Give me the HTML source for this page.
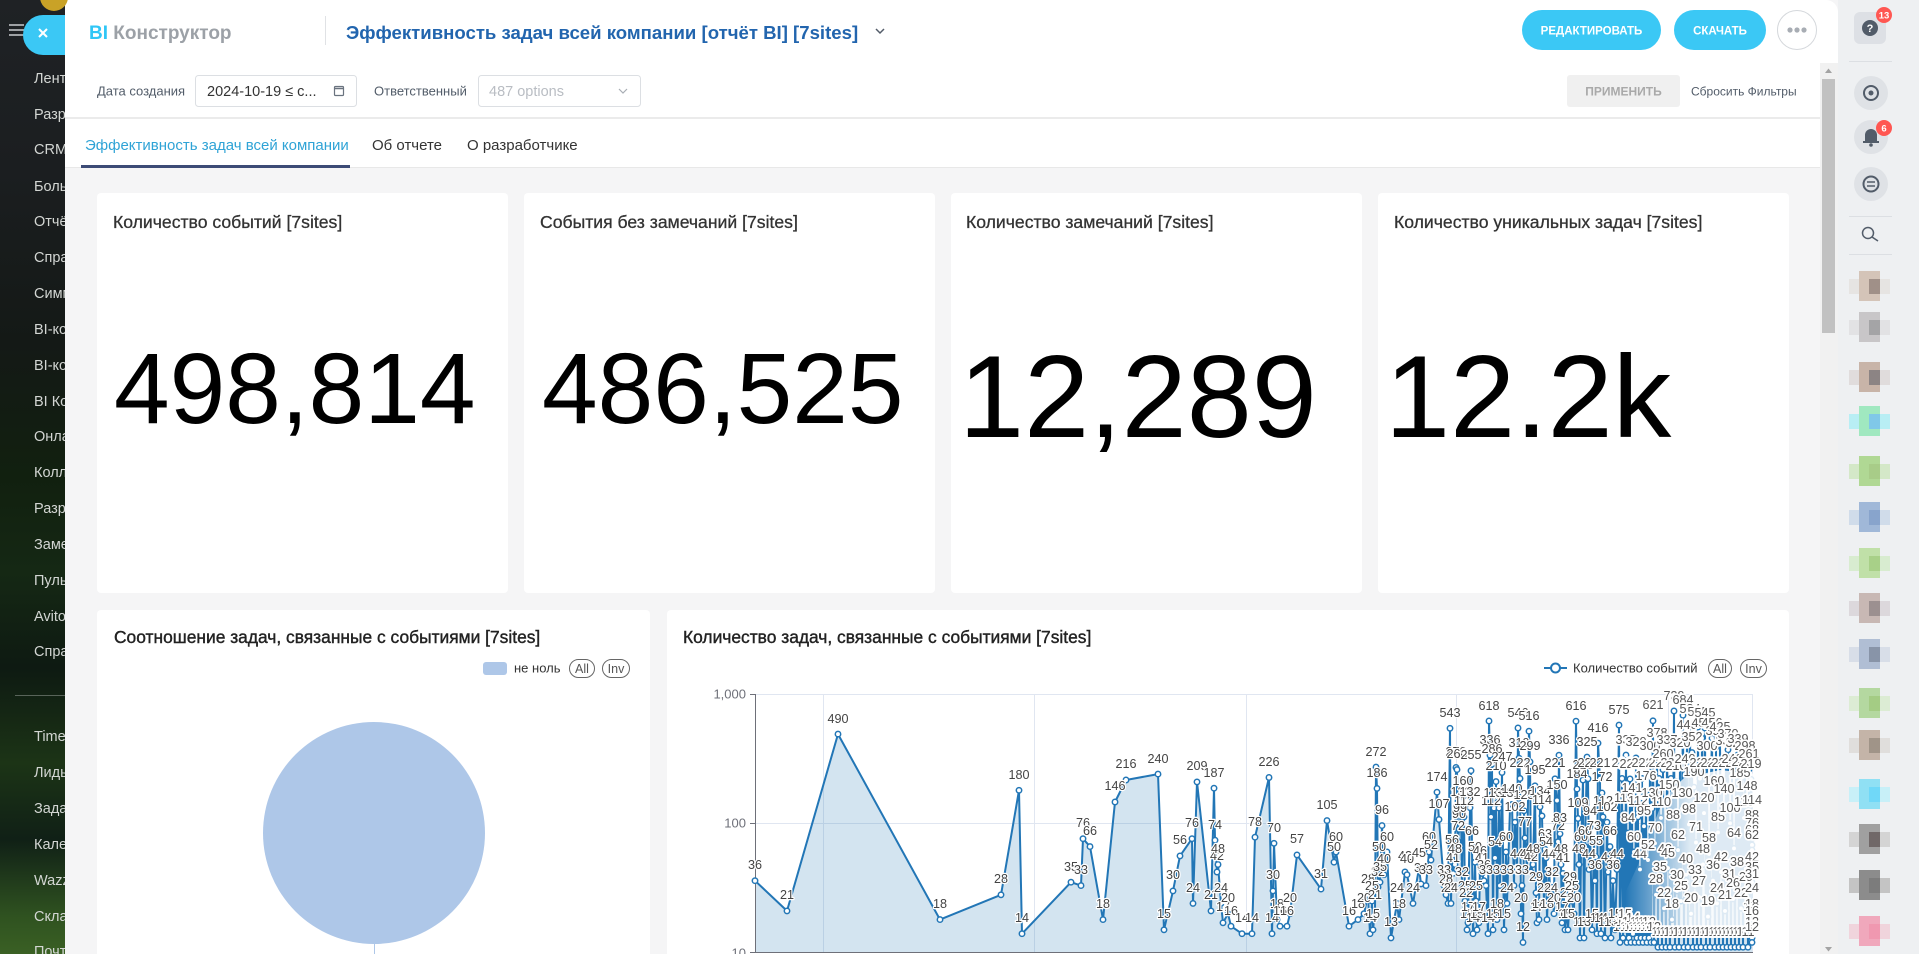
<!DOCTYPE html>
<html><head><meta charset="utf-8">
<style>
*{box-sizing:border-box;margin:0;padding:0}
html,body{width:1919px;height:954px;overflow:hidden;background:#f5f5f6;font-family:"Liberation Sans","Noto Sans CJK SC",sans-serif;position:relative}
.a{position:absolute}
#ls{left:0;top:0;width:65px;height:954px;overflow:hidden;background:linear-gradient(180deg,#1f2225 0%,#1b1e20 18%,#141916 36%,#11200f 50%,#152814 60%,#0e1a12 70%,#1c3416 80%,#102016 88%,#2f5220 96%,#3a6024 100%)}
#ls .t{position:absolute;left:34px;font-size:14.5px;line-height:18px;color:#d3d6d3;white-space:nowrap}
.card{position:absolute;background:#fff;border-radius:4px}
</style></head><body>
<div id="ls" class="a">
<div class="t" style="top:70px">Лента</div>
<div class="t" style="top:106px">Разработка</div>
<div class="t" style="top:141px">CRM</div>
<div class="t" style="top:178px">Больше</div>
<div class="t" style="top:213px">Отчёты</div>
<div class="t" style="top:249px">Справка</div>
<div class="t" style="top:285px">Симметрия</div>
<div class="t" style="top:321px">BI-конструктор</div>
<div class="t" style="top:357px">BI-конструктор</div>
<div class="t" style="top:393px">BI Конструктор</div>
<div class="t" style="top:428px">Онлайн</div>
<div class="t" style="top:464px">Коллеги</div>
<div class="t" style="top:500px">Разработка</div>
<div class="t" style="top:536px">Заметки</div>
<div class="t" style="top:572px">Пульс</div>
<div class="t" style="top:608px">Avito</div>
<div class="t" style="top:643px">Справочник</div>
<div class="a" style="left:15px;top:695px;width:50px;height:1px;background:rgba(255,255,255,0.3)"></div>
<div class="t" style="top:728px">Timeman</div>
<div class="t" style="top:764px">Лиды</div>
<div class="t" style="top:800px">Задачи</div>
<div class="t" style="top:836px">Календарь</div>
<div class="t" style="top:872px">Wazzup</div>
<div class="t" style="top:908px">Склад</div>
<div class="t" style="top:943px">Почта</div>
</div>
<div class="a" style="left:1838px;top:0;width:81px;height:954px;background:#eef0f2"></div>
<div class="a" style="left:65px;top:0;width:1773px;height:168px;background:#fff;border-top-right-radius:12px"></div>
<div class="a" style="left:65px;top:117px;width:1755px;height:2px;background:#ebebeb"></div>
<div class="a" style="left:65px;top:167px;width:1755px;height:1px;background:#e8e8e8"></div>
<div class="a" style="left:1820px;top:63px;width:18px;height:891px;background:#f1f1f1"></div>
<div class="a" style="left:1822px;top:79px;width:13px;height:254px;background:#c1c1c1"></div>
<div class="card" style="left:97px;top:193px;width:411px;height:400px"></div>
<div class="card" style="left:524px;top:193px;width:411px;height:400px"></div>
<div class="card" style="left:951px;top:193px;width:411px;height:400px"></div>
<div class="card" style="left:1378px;top:193px;width:411px;height:400px"></div>
<div class="card" style="left:97px;top:610px;width:553px;height:344px;border-bottom-left-radius:0;border-bottom-right-radius:0"></div>
<div class="card" style="left:667px;top:610px;width:1122px;height:344px;border-bottom-left-radius:0;border-bottom-right-radius:0"></div>

<svg class="a" style="left:0;top:0;font-family:'Liberation Sans','Noto Sans CJK SC',sans-serif" width="1919" height="954" xmlns="http://www.w3.org/2000/svg">
<defs>
<marker id="m" markerUnits="userSpaceOnUse" markerWidth="10" markerHeight="10" refX="5" refY="5" overflow="visible"><circle cx="5" cy="5" r="2.7" fill="#fff" stroke="#2276b6" stroke-width="1.5"/></marker>
<linearGradient id="hz" gradientUnits="userSpaceOnUse" x1="1625" y1="0" x2="1690" y2="0"><stop offset="0" stop-color="#fff" stop-opacity="0"/><stop offset="1" stop-color="#fff" stop-opacity="0.85"/></linearGradient>
</defs>
<!-- left top controls -->
<g stroke="#bfc2c4" stroke-width="1.6"><line x1="9" y1="25" x2="24" y2="25"/><line x1="9" y1="30" x2="24" y2="30"/><line x1="9" y1="35" x2="24" y2="35"/></g>
<circle cx="54" cy="-3" r="14" fill="#c9a227"/>
<path d="M65,15 H43 A20,20 0 0 0 43,55 H65 Z" fill="#3bc8f5"/>
<g stroke="#fff" stroke-width="2"><line x1="39" y1="29" x2="47" y2="37"/><line x1="47" y1="29" x2="39" y2="37"/></g>

<!-- header -->
<text x="89" y="39" font-size="19" font-weight="bold"><tspan fill="#2fc6f6">BI</tspan><tspan fill="#9ca1a7"> Конструктор</tspan></text>
<rect x="325" y="16" width="1" height="29" fill="#e0e2e5"/>
<text x="346" y="39" font-size="18.6" font-weight="bold" fill="#2265ae">Эффективность задач всей компании [отчёт BI] [7sites]</text>
<polyline points="876,29 880,33 884,29" fill="none" stroke="#535c69" stroke-width="1.5"/>
<rect x="1522" y="10" width="139" height="40" rx="20" fill="#3bc8f5"/>
<text x="1591.5" y="34.5" font-size="11.5" font-weight="bold" fill="#fff" text-anchor="middle">РЕДАКТИРОВАТЬ</text>
<rect x="1674" y="10" width="92" height="40" rx="20" fill="#3bc8f5"/>
<text x="1720" y="34.5" font-size="11.5" font-weight="bold" fill="#fff" text-anchor="middle">СКАЧАТЬ</text>
<circle cx="1797" cy="30" r="19.5" fill="#fff" stroke="#d5d8dc"/>
<g fill="#a8adb4"><circle cx="1790" cy="30" r="2.6"/><circle cx="1797" cy="30" r="2.6"/><circle cx="1804" cy="30" r="2.6"/></g>

<text x="97" y="95.5" font-size="13" fill="#525c69">Дата создания</text>
<rect x="195.5" y="75.5" width="161" height="31" rx="3" fill="#fff" stroke="#dcdfe3"/>
<text x="207" y="96" font-size="14.5" fill="#333">2024-10-19 ≤ c...</text>
<rect x="334.5" y="86.5" width="9" height="9" rx="1" fill="none" stroke="#6a737f" stroke-width="1.2"/>
<line x1="334.5" y1="88.5" x2="343.5" y2="88.5" stroke="#6a737f" stroke-width="1.5"/>
<text x="374" y="95.5" font-size="13" fill="#525c69">Ответственный</text>
<rect x="478.5" y="75.5" width="162" height="31" rx="3" fill="#fff" stroke="#dcdfe3"/>
<text x="489" y="96" font-size="14.5" fill="#b9bdc3">487 options</text>
<polyline points="619,89 623,93 627,89" fill="none" stroke="#a8adb4" stroke-width="1.2"/>
<rect x="1567" y="75" width="113" height="32" rx="3" fill="#f0f0f0"/>
<text x="1623.5" y="95.5" font-size="12" font-weight="bold" fill="#a9a9a9" text-anchor="middle">ПРИМЕНИТЬ</text>
<text x="1691" y="95.5" font-size="12" fill="#525c69">Сбросить Фильтры</text>

<text x="85" y="150" font-size="15" fill="#2fa3d6">Эффективность задач всей компании</text>
<text x="372" y="150" font-size="15" fill="#333">Об отчете</text>
<text x="467" y="150" font-size="15" fill="#333">О разработчике</text>
<rect x="81" y="165" width="269" height="3" fill="#3c4b76"/>

<!-- scrollbar arrows -->
<polygon points="1825,73 1828.5,68.5 1832,73" fill="#a3a3a3"/>
<polygon points="1825,947 1828.5,951.5 1832,947" fill="#a3a3a3"/>

<!-- right sidebar -->
<rect x="1854" y="12" width="32" height="32" rx="6" fill="#dde0e5"/>
<circle cx="1870" cy="28" r="8" fill="#525c69"/>
<text x="1870" y="32" font-size="11" font-weight="bold" fill="#fff" text-anchor="middle">?</text>
<circle cx="1884" cy="15" r="8" fill="#ff5752"/>
<text x="1884" y="18.5" font-size="9.5" font-weight="bold" fill="#fff" text-anchor="middle">13</text>
<g stroke="#dcdfe3" stroke-width="1"><line x1="1849" y1="61.5" x2="1892" y2="61.5"/><line x1="1849" y1="216.5" x2="1892" y2="216.5"/><line x1="1849" y1="254.5" x2="1892" y2="254.5"/></g>
<circle cx="1871" cy="93" r="17" fill="#dfe2e6"/>
<circle cx="1871" cy="93" r="7" fill="none" stroke="#525c69" stroke-width="2"/>
<circle cx="1871" cy="93" r="2.5" fill="#525c69"/>
<circle cx="1871" cy="137" r="17" fill="#dfe2e6"/>
<path d="M1865,142 L1865,135 A6,6 0 0 1 1877,135 L1877,142 Z" fill="#525c69"/>
<rect x="1863" y="141" width="16" height="2" fill="#525c69"/>
<circle cx="1871" cy="145" r="1.8" fill="#525c69"/>
<circle cx="1884" cy="128" r="8" fill="#ff5752"/>
<text x="1884" y="131.5" font-size="9.5" font-weight="bold" fill="#fff" text-anchor="middle">6</text>
<circle cx="1871" cy="184" r="17" fill="#dfe2e6"/>
<circle cx="1871" cy="184" r="7.5" fill="none" stroke="#525c69" stroke-width="2"/>
<g stroke="#525c69" stroke-width="1.5"><line x1="1867" y1="182" x2="1875" y2="182"/><line x1="1867" y1="186" x2="1875" y2="186"/></g>
<circle cx="1868" cy="233" r="5.5" fill="none" stroke="#525c69" stroke-width="1.5"/>
<line x1="1872" y1="237" x2="1878" y2="241" stroke="#525c69" stroke-width="1.6"/>
<g>
<g transform="translate(1849,271)"><rect x="0" y="8" width="41" height="15" fill="#e6e4e2"/><rect x="10" y="0" width="21" height="30" fill="#d4c4b8"/><rect x="20" y="8" width="11" height="15" fill="#a09088"/></g>
<g transform="translate(1849,312)"><rect x="0" y="8" width="41" height="15" fill="#e2e2e4"/><rect x="10" y="0" width="21" height="30" fill="#c8c6c8"/><rect x="20" y="8" width="11" height="15" fill="#a4a4a6"/></g>
<g transform="translate(1849,362)"><rect x="0" y="8" width="41" height="15" fill="#e0dcdc"/><rect x="10" y="0" width="21" height="30" fill="#c8b4a8"/><rect x="20" y="8" width="11" height="15" fill="#8c8484"/></g>
<g transform="translate(1849,406)"><rect x="0" y="8" width="41" height="15" fill="#b8eef4"/><rect x="10" y="0" width="21" height="30" fill="#a0e8c0"/><rect x="20" y="8" width="11" height="15" fill="#80c8e8"/></g>
<g transform="translate(1849,456)"><rect x="0" y="8" width="41" height="15" fill="#d4e8c8"/><rect x="10" y="0" width="21" height="30" fill="#b0d894"/><rect x="20" y="8" width="11" height="15" fill="#a8cc88"/></g>
<g transform="translate(1849,502)"><rect x="0" y="8" width="41" height="15" fill="#d0dcea"/><rect x="10" y="0" width="21" height="30" fill="#a0b8d8"/><rect x="20" y="8" width="11" height="15" fill="#88a4cc"/></g>
<g transform="translate(1849,548)"><rect x="0" y="8" width="41" height="15" fill="#d8ecd0"/><rect x="10" y="0" width="21" height="30" fill="#c0e0a8"/><rect x="20" y="8" width="11" height="15" fill="#a8d088"/></g>
<g transform="translate(1849,593)"><rect x="0" y="8" width="41" height="15" fill="#dcd8dc"/><rect x="10" y="0" width="21" height="30" fill="#c8b8b4"/><rect x="20" y="8" width="11" height="15" fill="#9c9090"/></g>
<g transform="translate(1849,639)"><rect x="0" y="8" width="41" height="15" fill="#d8dee8"/><rect x="10" y="0" width="21" height="30" fill="#b0bed4"/><rect x="20" y="8" width="11" height="15" fill="#8894a8"/></g>
<g transform="translate(1849,688)"><rect x="0" y="8" width="41" height="15" fill="#dcecd4"/><rect x="10" y="0" width="21" height="30" fill="#b4d8a0"/><rect x="20" y="8" width="11" height="15" fill="#a4cc84"/></g>
<g transform="translate(1849,730)"><rect x="0" y="8" width="41" height="15" fill="#e0dedc"/><rect x="10" y="0" width="21" height="30" fill="#c4b4a8"/><rect x="20" y="8" width="11" height="15" fill="#a09488"/></g>
<g transform="translate(1849,779)"><rect x="0" y="8" width="41" height="15" fill="#c8f0f8"/><rect x="10" y="0" width="21" height="30" fill="#90e0f4"/><rect x="20" y="8" width="11" height="15" fill="#70d8f8"/></g>
<g transform="translate(1849,824)"><rect x="0" y="8" width="41" height="15" fill="#d4d4d4"/><rect x="10" y="0" width="21" height="30" fill="#a0a0a0"/><rect x="20" y="8" width="11" height="15" fill="#706868"/></g>
<g transform="translate(1849,870)"><rect x="0" y="8" width="41" height="15" fill="#c4c4c4"/><rect x="10" y="0" width="21" height="30" fill="#8c8c8c"/><rect x="20" y="8" width="11" height="15" fill="#7c7c7c"/></g>
<g transform="translate(1849,916)"><rect x="0" y="8" width="41" height="15" fill="#f0d4dc"/><rect x="10" y="0" width="21" height="30" fill="#f0a8bc"/><rect x="20" y="8" width="11" height="15" fill="#f098b0"/></g>
</g>

<!-- KPI -->
<g font-size="17.6" fill="#333" stroke="#333" stroke-width="0.3">
<text x="113" y="228">Количество событий [7sites]</text>
<text x="540" y="228">События без замечаний [7sites]</text>
<text x="966" y="228">Количество замечаний [7sites]</text>
<text x="1394" y="228">Количество уникальных задач [7sites]</text>
</g>
<g fill="#000">
<text x="114" y="423" font-size="100">498,814</text>
<text x="542" y="423" font-size="100">486,525</text>
<text x="959" y="437" font-size="117">12,289</text>
<text x="1385" y="437" font-size="117">12.2k</text>
</g>

<!-- chart titles -->
<g font-size="17.4" fill="#222" stroke="#222" stroke-width="0.4">
<text x="114" y="643">Соотношение задач, связанные с событиями [7sites]</text>
<text x="683" y="643">Количество задач, связанные с событиями [7sites]</text>
</g>

<!-- pie -->
<rect x="483" y="662" width="24" height="13" rx="3" fill="#aec7e8"/>
<text x="514" y="672.5" font-size="13" fill="#333">не ноль</text>
<rect x="569.5" y="659.5" width="25" height="18" rx="9" fill="none" stroke="#666"/>
<text x="582" y="673" font-size="12.5" fill="#555" text-anchor="middle">All</text>
<rect x="602.5" y="659.5" width="27" height="18" rx="9" fill="none" stroke="#666"/>
<text x="616" y="673" font-size="12.5" fill="#555" text-anchor="middle">Inv</text>
<circle cx="374" cy="833" r="111" fill="#aec7e8"/>
<line x1="374.5" y1="944" x2="374.5" y2="954" stroke="#aec7e8"/>

<!-- line legend -->
<line x1="1544" y1="668" x2="1567" y2="668" stroke="#2276b6" stroke-width="2"/>
<circle cx="1555.5" cy="668" r="4.5" fill="#fff" stroke="#2276b6" stroke-width="2"/>
<text x="1573" y="672.5" font-size="13" fill="#333">Количество событий</text>
<rect x="1708.5" y="659.5" width="23" height="18" rx="9" fill="none" stroke="#666"/>
<text x="1720" y="673" font-size="12.5" fill="#555" text-anchor="middle">All</text>
<rect x="1740.5" y="659.5" width="26" height="18" rx="9" fill="none" stroke="#666"/>
<text x="1753.5" y="673" font-size="12.5" fill="#555" text-anchor="middle">Inv</text>

<!-- grid -->
<g stroke="#e0e6f1" stroke-width="1">
<line x1="755" y1="694.5" x2="1753" y2="694.5"/>
<line x1="755" y1="823.5" x2="1753" y2="823.5"/>
<line x1="823.5" y1="694" x2="823.5" y2="952"/>
<line x1="1034.5" y1="694" x2="1034.5" y2="952"/>
<line x1="1246.5" y1="694" x2="1246.5" y2="952"/>
<line x1="1456.5" y1="694" x2="1456.5" y2="952"/>
<line x1="1668.5" y1="694" x2="1668.5" y2="952"/>
<line x1="1752.5" y1="694" x2="1752.5" y2="952"/>
</g>
<g font-size="13" fill="#6e7079" text-anchor="end">
<text x="746" y="698.5">1,000</text>
<text x="746" y="827.5">100</text>
<text x="746" y="957.5">10</text>
</g>

<!-- area fill -->
<polygon fill="#2276b6" fill-opacity="0.2" points="755,952.7 755,880.7 787,910.9 838,734.1 940,919.6 1001,894.8 1019,790.3 1022,933.7 1071,882.2 1081,885.6 1083,838.7 1090,846.6 1103,919.6 1115,802 1126,780 1158,774.1 1164,929.8 1173,890.9 1180,855.9 1192,838.7 1193,903.4 1197,781.9 1211,910.9 1214,788.2 1215,840.2 1217,872 1218,864.5 1221,903.4 1223,922.8 1228,913.7 1231,926.2 1242,933.7 1252,933.7 1255,837.2 1269,777.5 1272,933.7 1273,890.9 1274,843.3 1277,919.6 1280,926.2 1287,926.2 1290,913.7 1297,854.9 1321,889.1 1327,820.6 1334,862.2 1336,852 1349,926.2 1358,919.6 1364,913.7 1368,894.8 1370,933.7 1372,901.1 1373,929.8 1375,910.9 1376,767.1 1377,788.4 1378,887.3 1379,862.2 1380,882.2 1382,825.6 1384,874.7 1387,852 1391,937.9 1397,903.4 1399,919.6 1405,872 1407,874.7 1413,903.4 1419,868.1 1421,883.9 1426,885.6 1429,852 1431,860 1437,792.2 1439,819.5 1444,885.6 1446,894.8 1448,903.4 1450,728.3 1451,903.4 1452,855.9 1453,873.4 1455,864.5 1456,767.5 1457,769.6 1458,841.7 1459,829.2 1460,823.9 1461,807.7 1462,887.3 1463,796.9 1464,816.9 1465,901.1 1466,908.3 1467,929.8 1468,922.8 1470,807.7 1471,770.7 1472,846.6 1473,933.7 1475,862.2 1476,901.1 1477,929.8 1479,922.8 1480,866.9 1482,873.4 1484,880.7 1486,885.6 1488,933.7 1489,721 1490,755.2 1491,816.9 1492,764.3 1493,929.8 1494,808.1 1495,857.9 1496,781.6 1497,919.6 1499,808.1 1500,885.6 1502,772.5 1504,929.8 1506,852 1507,903.4 1510,808.1 1512,804.4 1514,885.6 1515,822.2 1517,869.4 1518,728 1519,758.2 1520,778.5 1521,913.7 1522,885.6 1523,942.4 1524,810.8 1525,837.9 1527,869.4 1529,731.2 1530,761.8 1531,872 1533,864.5 1535,785.8 1536,892.8 1537,922.8 1539,919.6 1540,806.9 1542,815.9 1544,903.4 1545,849.2 1546,857.9 1547,919.6 1549,869.4 1551,903.4 1552,887.3 1554,913.7 1555,778.8 1557,800.5 1558,841.7 1559,755.2 1560,833.8 1561,864.5 1562,922.8 1563,873.4 1565,929.8 1567,908.3 1568,929.8 1570,892.8 1572,901.1 1574,913.7 1576,721.2 1577,789.1 1578,818.5 1579,864.5 1580,937.9 1581,852 1583,780 1584,937.9 1585,846.6 1587,757.1 1588,778.8 1589,869.4 1590,826.8 1592,929.8 1594,841 1595,880.7 1596,856.9 1597,933.7 1598,743.2 1600,778.8 1601,933.7 1602,792.9 1603,816.9 1605,937.9 1607,822.2 1608,872 1610,846.6 1611,937.9 1613,880.7 1615,929.8 1617,869.4 1619,725.1 1620,942.4 1622,778.5 1623,937.9 1624,814 1625,929.8 1626,755.1 1627,942.4 1628,833.1 1629,937.9 1630,779 1631,942.4 1632,804 1633,933.7 1634,852 1635,942.4 1636,758 1637,937.9 1638,816.9 1639,942.4 1640,869.4 1641,937.9 1642,778.5 1643,942.4 1644,826.2 1645,937.9 1646,791.6 1647,942.4 1648,860 1649,937.9 1650,761.6 1651,942.4 1652,808.6 1653,720.8 1654,942.4 1655,843.3 1656,894.8 1657,748.6 1658,947.2 1659,778.5 1660,882.2 1661,817.9 1662,947.2 1663,769.6 1664,908.3 1665,864.5 1666,947.2 1667,755.1 1668,868.1 1669,800.5 1670,947.2 1671,778.5 1672,919.6 1673,830.5 1674,711 1675,947.2 1676,781.6 1677,890.9 1678,850.1 1679,947.2 1680,758 1681,901.1 1682,808.6 1683,715.3 1684,947.2 1685,774.1 1686,874.7 1687,740.1 1688,947.2 1689,824.4 1690,724.2 1691,913.7 1692,752.6 1693,947.2 1694,787.2 1695,885.6 1696,842.5 1697,947.2 1698,727.1 1699,896.8 1700,778.5 1701,947.2 1702,738.1 1703,864.5 1704,813.1 1705,728.1 1706,947.2 1707,761.6 1708,916.6 1709,853.9 1710,947.2 1711,778.5 1712,738.1 1713,880.7 1714,796.9 1715,947.2 1716,746.9 1717,903.4 1718,832.4 1719,947.2 1720,742 1721,872 1722,778.5 1723,947.2 1724,804.4 1725,910.9 1726,756.3 1727,947.2 1728,749.8 1729,889.1 1730,823.3 1731,947.2 1732,774.1 1733,898.9 1734,848.4 1735,947.2 1736,758 1737,877.6 1738,754.7 1739,947.2 1740,788.7 1741,908.3 1742,777.5 1743,947.2 1744,817.9 1745,762 1746,892.8 1747,801.3 1748,947.2 1749,769.4 1750,922.8 1751,779.3 1752,815.9 1752,942.4 1752,952.7"/>

<!-- axes -->
<line x1="755.5" y1="694" x2="755.5" y2="953" stroke="#6e7079"/>
<line x1="755" y1="952.5" x2="1753" y2="952.5" stroke="#6e7079"/>
<g stroke="#6e7079"><line x1="750" y1="694.5" x2="755" y2="694.5"/><line x1="750" y1="823.5" x2="755" y2="823.5"/><line x1="750" y1="952.5" x2="755" y2="952.5"/></g>

<!-- series line -->
<polyline fill="none" stroke="#2276b6" stroke-width="2" stroke-linejoin="round" marker-start="url(#m)" marker-mid="url(#m)" marker-end="url(#m)" points="755,880.7 787,910.9 838,734.1 940,919.6 1001,894.8 1019,790.3 1022,933.7 1071,882.2 1081,885.6 1083,838.7 1090,846.6 1103,919.6 1115,802 1126,780 1158,774.1 1164,929.8 1173,890.9 1180,855.9 1192,838.7 1193,903.4 1197,781.9 1211,910.9 1214,788.2 1215,840.2 1217,872 1218,864.5 1221,903.4 1223,922.8 1228,913.7 1231,926.2 1242,933.7 1252,933.7 1255,837.2 1269,777.5 1272,933.7 1273,890.9 1274,843.3 1277,919.6 1280,926.2 1287,926.2 1290,913.7 1297,854.9 1321,889.1 1327,820.6 1334,862.2 1336,852 1349,926.2 1358,919.6 1364,913.7 1368,894.8 1370,933.7 1372,901.1 1373,929.8 1375,910.9 1376,767.1 1377,788.4 1378,887.3 1379,862.2 1380,882.2 1382,825.6 1384,874.7 1387,852 1391,937.9 1397,903.4 1399,919.6 1405,872 1407,874.7 1413,903.4 1419,868.1 1421,883.9 1426,885.6 1429,852 1431,860 1437,792.2 1439,819.5 1444,885.6 1446,894.8 1448,903.4 1450,728.3 1451,903.4 1452,855.9 1453,873.4 1455,864.5 1456,767.5 1457,769.6 1458,841.7 1459,829.2 1460,823.9 1461,807.7 1462,887.3 1463,796.9 1464,816.9 1465,901.1 1466,908.3 1467,929.8 1468,922.8 1470,807.7 1471,770.7 1472,846.6 1473,933.7 1475,862.2 1476,901.1 1477,929.8 1479,922.8 1480,866.9 1482,873.4 1484,880.7 1486,885.6 1488,933.7 1489,721 1490,755.2 1491,816.9 1492,764.3 1493,929.8 1494,808.1 1495,857.9 1496,781.6 1497,919.6 1499,808.1 1500,885.6 1502,772.5 1504,929.8 1506,852 1507,903.4 1510,808.1 1512,804.4 1514,885.6 1515,822.2 1517,869.4 1518,728 1519,758.2 1520,778.5 1521,913.7 1522,885.6 1523,942.4 1524,810.8 1525,837.9 1527,869.4 1529,731.2 1530,761.8 1531,872 1533,864.5 1535,785.8 1536,892.8 1537,922.8 1539,919.6 1540,806.9 1542,815.9 1544,903.4 1545,849.2 1546,857.9 1547,919.6 1549,869.4 1551,903.4 1552,887.3 1554,913.7 1555,778.8 1557,800.5 1558,841.7 1559,755.2 1560,833.8 1561,864.5 1562,922.8 1563,873.4 1565,929.8 1567,908.3 1568,929.8 1570,892.8 1572,901.1 1574,913.7 1576,721.2 1577,789.1 1578,818.5 1579,864.5 1580,937.9 1581,852 1583,780 1584,937.9 1585,846.6 1587,757.1 1588,778.8 1589,869.4 1590,826.8 1592,929.8 1594,841 1595,880.7 1596,856.9 1597,933.7 1598,743.2 1600,778.8 1601,933.7 1602,792.9 1603,816.9 1605,937.9 1607,822.2 1608,872 1610,846.6 1611,937.9 1613,880.7 1615,929.8 1617,869.4 1619,725.1 1620,942.4 1622,778.5 1623,937.9 1624,814 1625,929.8 1626,755.1 1627,942.4 1628,833.1 1629,937.9 1630,779 1631,942.4 1632,804 1633,933.7 1634,852 1635,942.4 1636,758 1637,937.9 1638,816.9 1639,942.4 1640,869.4 1641,937.9 1642,778.5 1643,942.4 1644,826.2 1645,937.9 1646,791.6 1647,942.4 1648,860 1649,937.9 1650,761.6 1651,942.4 1652,808.6 1653,720.8 1654,942.4 1655,843.3 1656,894.8 1657,748.6 1658,947.2 1659,778.5 1660,882.2 1661,817.9 1662,947.2 1663,769.6 1664,908.3 1665,864.5 1666,947.2 1667,755.1 1668,868.1 1669,800.5 1670,947.2 1671,778.5 1672,919.6 1673,830.5 1674,711 1675,947.2 1676,781.6 1677,890.9 1678,850.1 1679,947.2 1680,758 1681,901.1 1682,808.6 1683,715.3 1684,947.2 1685,774.1 1686,874.7 1687,740.1 1688,947.2 1689,824.4 1690,724.2 1691,913.7 1692,752.6 1693,947.2 1694,787.2 1695,885.6 1696,842.5 1697,947.2 1698,727.1 1699,896.8 1700,778.5 1701,947.2 1702,738.1 1703,864.5 1704,813.1 1705,728.1 1706,947.2 1707,761.6 1708,916.6 1709,853.9 1710,947.2 1711,778.5 1712,738.1 1713,880.7 1714,796.9 1715,947.2 1716,746.9 1717,903.4 1718,832.4 1719,947.2 1720,742 1721,872 1722,778.5 1723,947.2 1724,804.4 1725,910.9 1726,756.3 1727,947.2 1728,749.8 1729,889.1 1730,823.3 1731,947.2 1732,774.1 1733,898.9 1734,848.4 1735,947.2 1736,758 1737,877.6 1738,754.7 1739,947.2 1740,788.7 1741,908.3 1742,777.5 1743,947.2 1744,817.9 1745,762 1746,892.8 1747,801.3 1748,947.2 1749,769.4 1750,922.8 1751,779.3 1752,815.9 1752,830.5 1752,838.7 1752,845 1752,850.1 1752,872 1752,882.2 1752,889.1 1752,903.4 1752,919.6 1752,926.2 1752,937.9 1752,942.4"/>

<!-- white label clutter haze in dense region -->
<polygon fill="url(#hz)" points="1622,932 1622,900 1638,865 1652,828 1664,798 1684,778 1720,770 1756,774 1756,932"/>

<!-- labels -->
<g font-size="12.6" fill="#444" stroke="#fff" stroke-width="2.4" stroke-linejoin="round" paint-order="stroke" text-anchor="middle">
<text x="755" y="869">36</text><text x="787" y="899">21</text><text x="838" y="723">490</text><text x="940" y="908">18</text><text x="1001" y="883">28</text><text x="1019" y="779">180</text><text x="1022" y="922">14</text><text x="1071" y="871">35</text><text x="1081" y="874">33</text><text x="1083" y="827">76</text><text x="1090" y="835">66</text><text x="1103" y="908">18</text><text x="1115" y="790">146</text><text x="1126" y="768">216</text><text x="1158" y="763">240</text><text x="1164" y="918">15</text><text x="1173" y="879">30</text><text x="1180" y="844">56</text><text x="1192" y="827">76</text><text x="1193" y="892">24</text><text x="1197" y="770">209</text><text x="1211" y="899">21</text><text x="1214" y="777">187</text><text x="1215" y="829">74</text><text x="1217" y="860">42</text><text x="1218" y="853">48</text><text x="1221" y="892">24</text><text x="1223" y="911">17</text><text x="1228" y="902">20</text><text x="1231" y="915">16</text><text x="1242" y="922">14</text><text x="1252" y="922">14</text><text x="1255" y="826">78</text><text x="1269" y="766">226</text><text x="1272" y="922">14</text><text x="1273" y="879">30</text><text x="1274" y="832">70</text><text x="1277" y="908">18</text><text x="1280" y="915">16</text><text x="1287" y="915">16</text><text x="1290" y="902">20</text><text x="1297" y="843">57</text><text x="1321" y="878">31</text><text x="1327" y="809">105</text><text x="1334" y="851">50</text><text x="1336" y="841">60</text><text x="1349" y="915">16</text><text x="1358" y="908">18</text><text x="1364" y="902">20</text><text x="1368" y="883">28</text><text x="1370" y="922">14</text><text x="1372" y="890">25</text><text x="1373" y="918">15</text><text x="1375" y="899">21</text><text x="1376" y="756">272</text><text x="1377" y="777">186</text><text x="1378" y="876">32</text><text x="1379" y="851">50</text><text x="1380" y="871">35</text><text x="1382" y="814">96</text><text x="1384" y="863">40</text><text x="1387" y="841">60</text><text x="1391" y="926">13</text><text x="1397" y="892">24</text><text x="1399" y="908">18</text><text x="1405" y="860">42</text><text x="1407" y="863">40</text><text x="1413" y="892">24</text><text x="1419" y="857">45</text><text x="1421" y="872">34</text><text x="1426" y="874">33</text><text x="1429" y="841">60</text><text x="1431" y="849">52</text><text x="1437" y="781">174</text><text x="1439" y="808">107</text><text x="1444" y="874">33</text><text x="1446" y="883">28</text><text x="1448" y="892">24</text><text x="1450" y="717">543</text><text x="1451" y="892">24</text>
<text x="1452" y="844">56</text><text x="1453" y="862">41</text><text x="1455" y="853">48</text><text x="1456" y="756">270</text><text x="1457" y="758">260</text><text x="1458" y="830">72</text><text x="1459" y="818">90</text><text x="1460" y="812">99</text><text x="1461" y="796">132</text><text x="1462" y="876">32</text><text x="1463" y="785">160</text><text x="1464" y="805">112</text><text x="1465" y="890">25</text><text x="1466" y="897">22</text><text x="1467" y="918">15</text><text x="1468" y="911">17</text><text x="1470" y="796">132</text><text x="1471" y="759">255</text><text x="1472" y="835">66</text><text x="1473" y="922">14</text><text x="1475" y="851">50</text><text x="1476" y="890">25</text><text x="1477" y="918">15</text><text x="1479" y="911">17</text><text x="1480" y="855">46</text><text x="1482" y="862">41</text><text x="1484" y="869">36</text><text x="1486" y="874">33</text><text x="1488" y="922">14</text><text x="1489" y="710">618</text><text x="1490" y="744">336</text><text x="1491" y="805">112</text><text x="1492" y="753">286</text><text x="1493" y="918">15</text><text x="1494" y="797">131</text><text x="1495" y="846">54</text><text x="1496" y="770">210</text><text x="1497" y="908">18</text><text x="1499" y="797">131</text><text x="1500" y="874">33</text><text x="1502" y="761">247</text><text x="1504" y="918">15</text><text x="1506" y="841">60</text><text x="1507" y="892">24</text><text x="1510" y="797">131</text><text x="1512" y="793">140</text><text x="1514" y="874">33</text><text x="1515" y="811">102</text><text x="1517" y="858">44</text><text x="1518" y="717">546</text><text x="1519" y="747">319</text><text x="1520" y="767">222</text><text x="1521" y="902">20</text><text x="1522" y="874">33</text><text x="1523" y="931">12</text><text x="1524" y="799">125</text><text x="1525" y="826">77</text><text x="1527" y="858">44</text><text x="1529" y="720">516</text><text x="1530" y="750">299</text><text x="1531" y="861">42</text><text x="1533" y="853">48</text><text x="1535" y="774">195</text><text x="1536" y="881">29</text><text x="1537" y="911">17</text><text x="1539" y="908">18</text><text x="1540" y="795">134</text><text x="1542" y="804">114</text><text x="1544" y="892">24</text><text x="1545" y="838">63</text><text x="1546" y="846">54</text><text x="1547" y="908">18</text><text x="1549" y="858">44</text><text x="1551" y="892">24</text><text x="1552" y="876">32</text><text x="1554" y="902">20</text><text x="1555" y="767">221</text><text x="1557" y="789">150</text><text x="1558" y="830">72</text><text x="1559" y="744">336</text><text x="1560" y="822">83</text><text x="1561" y="853">48</text><text x="1562" y="911">17</text><text x="1563" y="862">41</text><text x="1565" y="918">15</text><text x="1567" y="897">22</text><text x="1568" y="918">15</text><text x="1570" y="881">29</text><text x="1572" y="890">25</text><text x="1574" y="902">20</text><text x="1576" y="710">616</text><text x="1577" y="778">184</text><text x="1578" y="807">109</text><text x="1579" y="853">48</text><text x="1580" y="926">13</text><text x="1581" y="841">60</text><text x="1583" y="769">216</text><text x="1584" y="926">13</text><text x="1585" y="835">66</text><text x="1587" y="746">325</text><text x="1588" y="767">221</text><text x="1589" y="858">44</text><text x="1590" y="815">94</text><text x="1592" y="918">15</text><text x="1594" y="830">73</text><text x="1595" y="869">36</text><text x="1596" y="845">55</text><text x="1597" y="922">14</text><text x="1598" y="732">416</text><text x="1600" y="767">221</text><text x="1601" y="922">14</text><text x="1602" y="781">172</text><text x="1603" y="805">112</text><text x="1605" y="926">13</text><text x="1607" y="811">102</text><text x="1608" y="861">42</text><text x="1610" y="835">66</text><text x="1611" y="926">13</text><text x="1613" y="869">36</text><text x="1615" y="918">15</text><text x="1617" y="858">44</text><text x="1619" y="714">575</text><text x="1620" y="931">12</text>
</g>
<g font-size="12.6" fill="#555" stroke="#fff" stroke-width="3.4" stroke-linejoin="round" paint-order="stroke" text-anchor="middle">
<text x="1622" y="767">222</text><text x="1623" y="926">13</text><text x="1624" y="802">118</text><text x="1625" y="918">15</text><text x="1626" y="744">337</text><text x="1627" y="931">12</text><text x="1628" y="822">84</text><text x="1629" y="926">13</text><text x="1630" y="768">220</text><text x="1631" y="931">12</text><text x="1632" y="792">141</text><text x="1633" y="922">14</text><text x="1634" y="841">60</text><text x="1635" y="931">12</text><text x="1636" y="746">320</text><text x="1637" y="926">13</text><text x="1638" y="805">112</text><text x="1639" y="931">12</text><text x="1640" y="858">44</text><text x="1641" y="926">13</text><text x="1642" y="767">222</text><text x="1643" y="931">12</text><text x="1644" y="815">95</text><text x="1645" y="926">13</text><text x="1646" y="780">176</text><text x="1647" y="931">12</text><text x="1648" y="849">52</text><text x="1649" y="926">13</text><text x="1650" y="750">300</text><text x="1651" y="931">12</text><text x="1652" y="797">130</text><text x="1653" y="709">621</text><text x="1654" y="931">12</text><text x="1655" y="832">70</text><text x="1656" y="883">28</text><text x="1657" y="737">378</text><text x="1658" y="936">11</text><text x="1659" y="767">222</text><text x="1660" y="871">35</text><text x="1661" y="806">110</text><text x="1662" y="936">11</text><text x="1663" y="758">260</text><text x="1664" y="897">22</text><text x="1665" y="853">48</text><text x="1666" y="936">11</text><text x="1667" y="744">337</text><text x="1668" y="857">45</text><text x="1669" y="789">150</text><text x="1670" y="936">11</text><text x="1671" y="767">222</text><text x="1672" y="908">18</text><text x="1673" y="819">88</text><text x="1674" y="700">739</text><text x="1675" y="936">11</text><text x="1676" y="770">210</text><text x="1677" y="879">30</text><text x="1678" y="839">62</text><text x="1679" y="936">11</text><text x="1680" y="747">320</text><text x="1681" y="890">25</text><text x="1682" y="797">130</text><text x="1683" y="704">684</text><text x="1684" y="936">11</text><text x="1685" y="763">240</text><text x="1686" y="863">40</text><text x="1687" y="729">440</text><text x="1688" y="936">11</text><text x="1689" y="813">98</text><text x="1690" y="713">584</text><text x="1691" y="902">20</text><text x="1692" y="741">352</text><text x="1693" y="936">11</text><text x="1694" y="776">190</text><text x="1695" y="874">33</text><text x="1696" y="831">71</text><text x="1697" y="936">11</text><text x="1698" y="716">555</text><text x="1699" y="885">27</text><text x="1700" y="767">222</text><text x="1701" y="936">11</text><text x="1702" y="727">456</text><text x="1703" y="853">48</text><text x="1704" y="802">120</text><text x="1705" y="717">545</text><text x="1706" y="936">11</text><text x="1707" y="750">300</text><text x="1708" y="905">19</text><text x="1709" y="842">58</text><text x="1710" y="936">11</text><text x="1711" y="767">222</text><text x="1712" y="727">456</text><text x="1713" y="869">36</text><text x="1714" y="785">160</text><text x="1715" y="936">11</text><text x="1716" y="735">390</text><text x="1717" y="892">24</text><text x="1718" y="821">85</text><text x="1719" y="936">11</text><text x="1720" y="731">425</text><text x="1721" y="861">42</text><text x="1722" y="767">222</text><text x="1723" y="936">11</text><text x="1724" y="793">140</text><text x="1725" y="899">21</text><text x="1726" y="745">330</text><text x="1727" y="936">11</text><text x="1728" y="738">370</text><text x="1729" y="878">31</text><text x="1730" y="812">100</text><text x="1731" y="936">11</text><text x="1732" y="763">240</text><text x="1733" y="887">26</text><text x="1734" y="837">64</text><text x="1735" y="936">11</text><text x="1736" y="747">320</text><text x="1737" y="866">38</text><text x="1738" y="743">339</text><text x="1739" y="936">11</text><text x="1740" y="777">185</text><text x="1741" y="897">22</text><text x="1742" y="766">226</text><text x="1743" y="936">11</text><text x="1744" y="806">110</text><text x="1745" y="750">298</text><text x="1746" y="881">29</text><text x="1747" y="790">148</text><text x="1748" y="936">11</text><text x="1749" y="758">261</text><text x="1750" y="911">17</text><text x="1751" y="768">219</text>
<text x="1752" y="804">114</text><text x="1752" y="819">88</text><text x="1752" y="827">76</text><text x="1752" y="834">68</text><text x="1752" y="839">62</text><text x="1752" y="861">42</text><text x="1752" y="871">35</text><text x="1752" y="878">31</text><text x="1752" y="892">24</text><text x="1752" y="908">18</text><text x="1752" y="915">16</text><text x="1752" y="926">13</text><text x="1752" y="931">12</text>
</g>
</svg>
</body></html>
